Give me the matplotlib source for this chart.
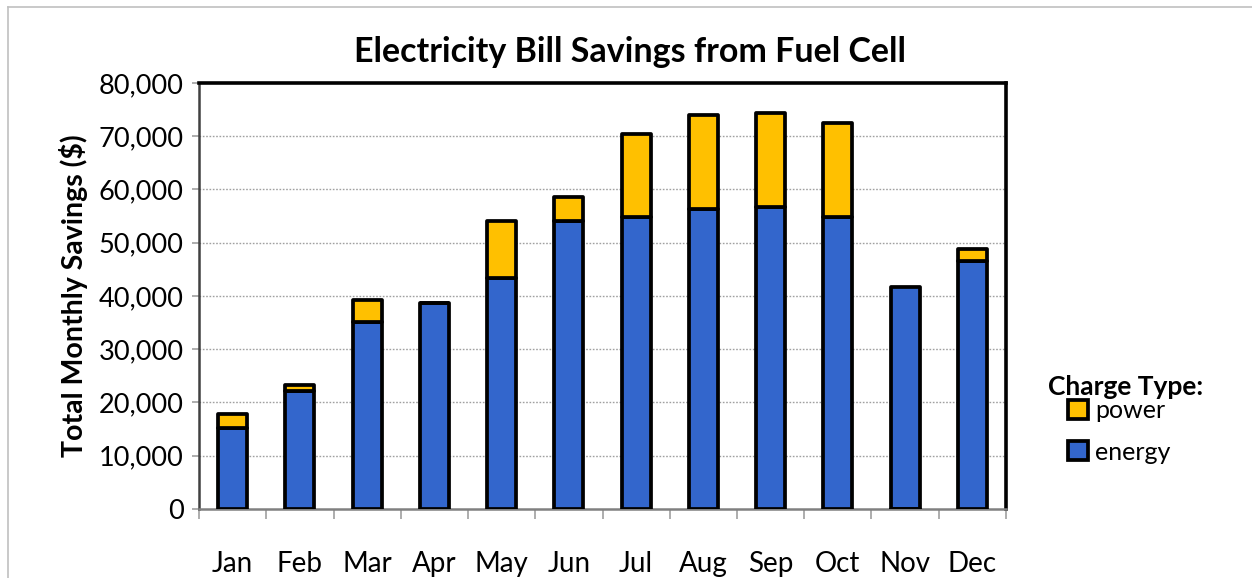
import numpy as np
import matplotlib.pyplot as plt
from matplotlib.patches import Patch
from matplotlib.lines import Line2D
from matplotlib.ticker import FuncFormatter

plt.rcParams['font.family'] = ['Lato', 'DejaVu Sans']

months = ["Jan", "Feb", "Mar", "Apr", "May", "Jun",
          "Jul", "Aug", "Sep", "Oct", "Nov", "Dec"]
energy = [15300, 22200, 35100, 38600, 43400, 54100,
          54800, 56300, 56700, 54900, 41700, 46600]   # $ savings from energy charges
power = [2600, 1000, 4100, 0, 10600, 4400,
         15600, 17600, 17600, 17500, -300, 2200]      # $ savings from power (demand) charges

blue = "#3366cc"
gold = "#ffc000"

fig = plt.figure(figsize=(12.52, 5.78), dpi=100)
ax = fig.add_axes([0.159, 0.1194, 0.6445, 0.737])

x = np.arange(len(months))
w = 0.43
# power stacks on energy; negative power hangs below zero
pbottom = [e if p >= 0 else 0 for e, p in zip(energy, power)]
ax.bar(x, energy, w, color=blue, edgecolor="black", linewidth=2.7,
       joinstyle="round", zorder=3)
ax.bar(x, power, w, bottom=pbottom, color=gold, edgecolor="black", linewidth=2.7,
       joinstyle="round", zorder=3)

ax.set_xlim(-0.5, 11.5)
ax.set_ylim(0, 80000)
ax.set_yticks(np.arange(0, 80001, 10000))
ax.yaxis.set_major_formatter(FuncFormatter(lambda v, p: f"{int(v):,}"))
ax.set_xticks(x)
ax.set_xticklabels(months)
ax.set_xticks(np.arange(-0.5, 12, 1), minor=True)
ax.tick_params(axis="x", which="major", length=0, pad=30, labelsize=20)
ax.tick_params(axis="x", which="minor", length=7, width=1.2, color="#a0a0a0")
ax.tick_params(axis="y", length=5, width=1.2, color="#a0a0a0", labelsize=19.5, pad=6)

for gy in range(10000, 80000, 10000):
    ax.axhline(gy, color="#a0a0a0", linestyle=(0, (1.2, 1.2)), linewidth=1, zorder=1)

ax.spines["top"].set_linewidth(2.6)
ax.spines["right"].set_linewidth(2.6)
ax.spines["top"].set_color("black")
ax.spines["right"].set_color("black")
ax.spines["left"].set_color("#404040")
ax.spines["left"].set_linewidth(1.8)
ax.spines["bottom"].set_color("#808080")
ax.spines["bottom"].set_linewidth(1.8)

ax.set_ylabel("Total Monthly Savings ($)", fontsize=20.5, fontweight="bold", labelpad=8)
fig.text(0.503, 0.91, "Electricity Bill Savings from Fuel Cell",
         ha="center", va="center", fontsize=24.5, fontweight="bold")

# legend: bold title, then indented entries
fig.text(0.837, 0.330, "Charge Type:", ha="left", va="center",
         fontsize=19, fontweight="bold")
handles = [Patch(facecolor=gold, edgecolor="black", linewidth=2.7, label="power"),
           Patch(facecolor=blue, edgecolor="black", linewidth=2.7, label="energy")]
fig.legend(handles=handles, loc="upper left",
           bbox_to_anchor=(0.853, 0.310), frameon=False, fontsize=18,
           handlelength=0.8, handleheight=0.8, handletextpad=0.3,
           labelspacing=0.75, borderaxespad=0, borderpad=0)

# thin grey frame on the cropped image edges
fig.add_artist(Line2D([0.0065, 1.0], [0.988, 0.988], color="#c0c0c0", linewidth=1.2))
fig.add_artist(Line2D([0.0065, 0.0065], [0.0, 0.988], color="#c0c0c0", linewidth=1.2))

fig.savefig("out.png", dpi=100)
